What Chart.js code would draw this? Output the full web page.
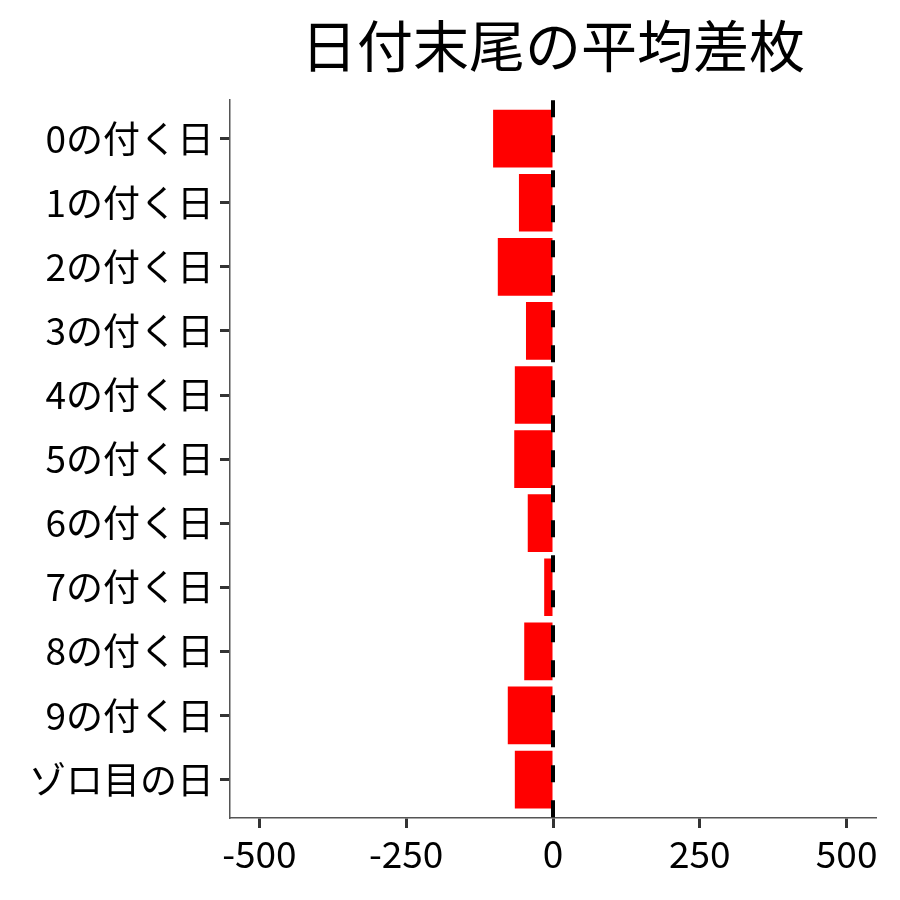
<!DOCTYPE html>
<html>
<head>
<meta charset="utf-8">
<script src="https://cdn.jsdelivr.net/npm/chart.js@4/dist/chart.umd.min.js"></script>
<style>
  html, body { margin: 0; padding: 0; background: #fff; }
  #wrap { width: 900px; height: 900px; }
</style>
</head>
<body>
<div id="wrap"><canvas id="diffChart" width="900" height="900"></canvas></div>
<script>
const dayLabels = ['0の付く日', '1の付く日', '2の付く日', '3の付く日', '4の付く日', '5の付く日',
  '6の付く日', '7の付く日', '8の付く日', '9の付く日', 'ゾロ目の日'];
const avgDiff = [-102, -58, -94, -46, -65, -66, -43, -15, -49, -77, -65];
const xTicks = [-500, -250, 0, 250, 500];

const fontFamily = "'Noto Sans CJK JP', 'Noto Sans', sans-serif";
const diffChart = document.getElementById('diffChart');

// dashed line at zero, drawn over the bars
const zeroLine = {
  id: 'zeroLine',
  afterDatasetsDraw(chart) {
    const ctx = chart.ctx;
    const x = chart.scales.x.getPixelForValue(0);
    const area = chart.chartArea;
    ctx.save();
    ctx.strokeStyle = '#000';
    ctx.lineWidth = 4;
    ctx.setLineDash([17, 18]);
    ctx.beginPath();
    ctx.moveTo(x, area.top);
    ctx.lineTo(x, area.bottom);
    ctx.stroke();
    ctx.restore();
  }
};

// y is a linear index axis so the categories get ggplot-like padding at both ends
const barPoints = avgDiff.map((v, i) => ({ x: v, y: i }));

new Chart(diffChart, {
  type: 'bar',
  data: {
    datasets: [{
      data: barPoints,
      backgroundColor: '#ff0000',
      borderWidth: 0,
      categoryPercentage: 0.9,
      barPercentage: 1
    }]
  },
  options: {
    indexAxis: 'y',
    responsive: false,
    animation: false,
    layout: { padding: { top: 8, right: 24, bottom: 12, left: 0 } },
    plugins: {
      legend: { display: false },
      tooltip: { enabled: false },
      title: {
        display: true,
        text: '日付末尾の平均差枚',
        fullSize: false,
        color: '#000',
        font: { family: fontFamily, size: 56, weight: 'normal' },
        padding: { top: 4, bottom: 21 }
      }
    },
    scales: {
      x: {
        min: -550,
        max: 550,
        afterBuildTicks: scale => { scale.ticks = xTicks.map(v => ({ value: v })); },
        afterFit: scale => { scale.height = 70; },
        grid: { drawOnChartArea: false, drawTicks: true, tickLength: 10, tickWidth: 3, tickColor: '#333' },
        border: { display: true, color: '#555', width: 1.5 },
        ticks: {
          color: '#000',
          padding: 4,
          maxRotation: 0,
          font: { family: fontFamily, size: 37 }
        }
      },
      y: {
        type: 'linear',
        reverse: true,
        offset: false,
        min: -0.6,
        max: dayLabels.length - 0.4,
        afterBuildTicks: scale => { scale.ticks = dayLabels.map((d, i) => ({ value: i })); },
        afterFit: scale => { scale.width = 230; },
        grid: { offset: false, drawOnChartArea: false, drawTicks: true, tickLength: 10, tickWidth: 3, tickColor: '#333' },
        border: { display: true, color: '#555', width: 1.5 },
        ticks: {
          color: '#000',
          padding: 6,
          font: { family: fontFamily, size: 37 },
          callback: v => dayLabels[v]
        }
      }
    }
  },
  plugins: [zeroLine]
});
</script>
</body>
</html>
